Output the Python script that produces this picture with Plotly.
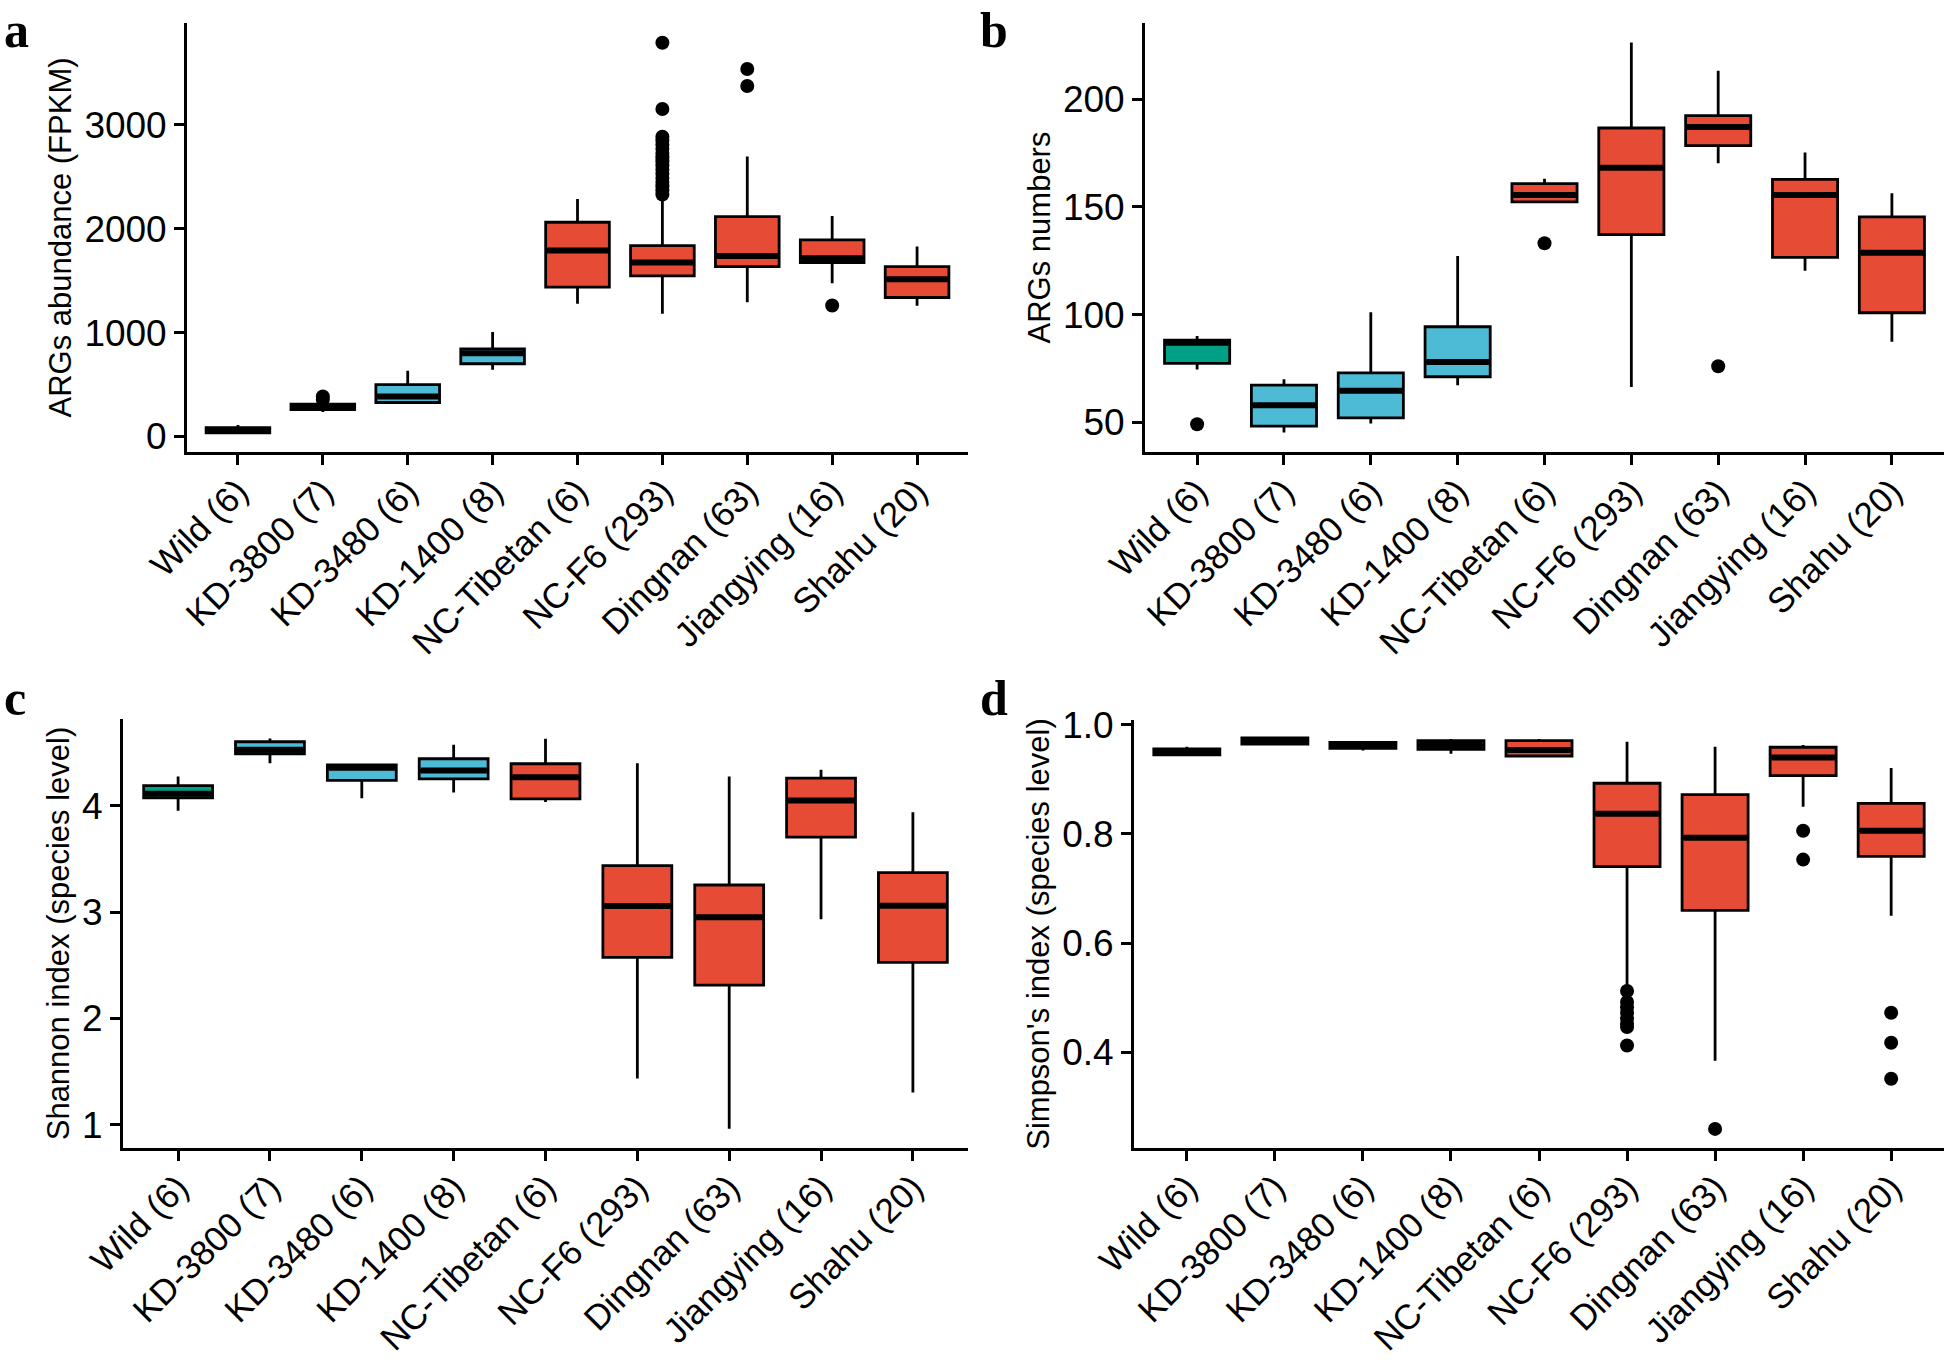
import plotly.graph_objects as go

W, H = 1944, 1365

categories = ["Wild (6)", "KD-3800 (7)", "KD-3480 (6)", "KD-1400 (8)", "NC-Tibetan (6)",
              "NC-F6 (293)", "Dingnan (63)", "Jiangying (16)", "Shahu (20)"]
groups = ["wild", "kd", "kd", "kd", "dom", "dom", "dom", "dom", "dom"]
group_colors = {"wild": "#00A087", "kd": "#4DBBD5", "dom": "#E64B35"}

# Panel a: ARGs abundance (FPKM)
a_low = [20, 235, 320, 642, 1277, 1181, 1293, 1476, 1258]
a_q1 = [35, 258, 327, 700, 1438, 1547, 1636, 1675, 1338]
a_med = [58, 281, 385, 802, 1790, 1675, 1739, 1717, 1515]
a_q3 = [85, 312, 498, 844, 2063, 1838, 2117, 1893, 1636]
a_high = [110, 322, 632, 1005, 2288, 2276, 2695, 2124, 1829]
a_out_cat = ["KD-3800 (7)", "KD-3800 (7)"] + ["NC-F6 (293)"] * 17 + ["Dingnan (63)", "Dingnan (63)", "Jiangying (16)"]
a_out_val = [385, 353, 3792, 3154, 2887, 2850, 2810, 2770, 2730, 2690, 2650, 2610, 2570,
             2530, 2490, 2450, 2410, 2370, 2330, 3539, 3375, 1261]

# Panel b: ARGs numbers
b_low = [74.6, 45.4, 49.5, 67.3, 152.3, 66.5, 170.2, 120.4, 87.4]
b_q1 = [77.4, 48.3, 52.1, 71.2, 152.3, 137.1, 178.4, 126.6, 100.9]
b_med = [87.0, 58.0, 64.7, 78.1, 155.5, 168.1, 187.1, 155.5, 128.7]
b_q3 = [88.2, 67.3, 73.0, 94.4, 160.8, 186.6, 192.3, 162.8, 145.4]
b_high = [90.1, 70.0, 101.1, 127.2, 163.0, 226.2, 213.2, 175.2, 156.3]
b_out_cat = ["Wild (6)", "NC-Tibetan (6)", "Dingnan (63)"]
b_out_val = [49.2, 133.1, 76.1]

# Panel c: Shannon index
c_low = [3.953, 4.40, 4.072, 4.126, 4.035, 1.433, 0.962, 2.932, 1.302]
c_q1 = [4.075, 4.49, 4.239, 4.254, 4.066, 2.574, 2.313, 3.705, 2.527]
c_med = [4.113, 4.528, 4.358, 4.333, 4.27, 3.057, 2.951, 4.05, 3.06]
c_q3 = [4.19, 4.603, 4.386, 4.443, 4.396, 3.437, 3.255, 4.261, 3.371]
c_high = [4.276, 4.634, 4.386, 4.575, 4.631, 4.40, 4.277, 4.339, 3.94]
c_out_cat = []
c_out_val = []

# Panel d: Simpson's index
d_low = [0.944, 0.963, 0.953, 0.947, 0.94, 0.523, 0.384, 0.85, 0.65]
d_q1 = [0.945, 0.965, 0.957, 0.955, 0.943, 0.740, 0.66, 0.907, 0.759]
d_med = [0.95, 0.971, 0.963, 0.963, 0.954, 0.837, 0.793, 0.94, 0.806]
d_q3 = [0.956, 0.976, 0.968, 0.971, 0.971, 0.893, 0.872, 0.959, 0.856]
d_high = [0.96, 0.978, 0.970, 0.974, 0.974, 0.969, 0.960, 0.963, 0.921]
d_out_cat = ["NC-F6 (293)"] * 8 + ["Dingnan (63)", "Jiangying (16)", "Jiangying (16)",
                                    "Shahu (20)", "Shahu (20)", "Shahu (20)"]
d_out_val = [0.512, 0.492, 0.482, 0.472, 0.462, 0.452, 0.446, 0.412, 0.259,
             0.806, 0.753, 0.472, 0.417, 0.351]

panels = [
    dict(key="a", low=a_low, q1=a_q1, med=a_med, q3=a_q3, high=a_high,
         oc=a_out_cat, ov=a_out_val, title="ARGs abundance (FPKM)",
         yrange=[-150, 3982], ytick=[0, 1000, 2000, 3000], ytext=["0", "1000", "2000", "3000"],
         px=(187, 968), py=(23, 452)),
    dict(key="b", low=b_low, q1=b_q1, med=b_med, q3=b_q3, high=b_high,
         oc=b_out_cat, ov=b_out_val, title="ARGs numbers",
         yrange=[36.3, 235.3], ytick=[50, 100, 150, 200], ytext=["50", "100", "150", "200"],
         px=(1145, 1944), py=(23, 452)),
    dict(key="c", low=c_low, q1=c_q1, med=c_med, q3=c_q3, high=c_high,
         oc=c_out_cat, ov=c_out_val, title="Shannon index (species level)",
         yrange=[0.78, 4.817], ytick=[1, 2, 3, 4], ytext=["1", "2", "3", "4"],
         px=(123, 968), py=(719, 1148)),
    dict(key="d", low=d_low, q1=d_q1, med=d_med, q3=d_q3, high=d_high,
         oc=d_out_cat, ov=d_out_val, title="Simpson's index (species level)",
         yrange=[0.224, 1.009], ytick=[0.4, 0.6, 0.8, 1.0], ytext=["0.4", "0.6", "0.8", "1.0"],
         px=(1134, 1944), py=(720, 1148)),
]

FONT = "Liberation Sans, Arial, sans-serif"
fig = go.Figure()
layout = dict(width=W, height=H, margin=dict(l=0, r=0, t=0, b=0),
              paper_bgcolor="white", plot_bgcolor="white", showlegend=False,
              boxmode="overlay", annotations=[])

for i, p in enumerate(panels):
    n = "" if i == 0 else str(i + 1)
    xa, ya = "x" + n, "y" + n
    for g in ["wild", "kd", "dom"]:
        idx = [k for k, gg in enumerate(groups) if gg == g]
        fig.add_trace(go.Box(
            x=[categories[k] for k in idx],
            q1=[p["q1"][k] for k in idx], median=[p["med"][k] for k in idx],
            q3=[p["q3"][k] for k in idx], lowerfence=[p["low"][k] for k in idx],
            upperfence=[p["high"][k] for k in idx],
            fillcolor=group_colors[g], line=dict(color="black", width=2.8),
            whiskerwidth=0, width=0.75, boxpoints=False, xaxis=xa, yaxis=ya,
            hoverinfo="skip"))
    # thick median bars
    fig.add_trace(go.Box(
        x=categories, q1=p["med"], median=p["med"], q3=p["med"],
        lowerfence=p["med"], upperfence=p["med"],
        fillcolor="black", line=dict(color="black", width=6),
        whiskerwidth=0, width=0.72, boxpoints=False, xaxis=xa, yaxis=ya,
        hoverinfo="skip"))
    if p["oc"]:
        fig.add_trace(go.Scatter(x=p["oc"], y=p["ov"], mode="markers",
                                 marker=dict(color="black", size=14, line=dict(width=0)),
                                 xaxis=xa, yaxis=ya, hoverinfo="skip"))
    x0, x1 = p["px"]
    y0, y1 = p["py"]
    layout["xaxis" + n] = dict(
        domain=[x0 / W, x1 / W], anchor=ya, type="category",
        categoryorder="array", categoryarray=categories, range=[-0.6, 8.6],
        showline=True, linecolor="black", linewidth=2.8, mirror=False,
        ticks="outside", ticklen=10, tickwidth=2.8, tickcolor="black",
        tickangle=-45, tickfont=dict(family=FONT, size=35, color="black"),
        ticklabelstandoff=-8,
        showgrid=False, zeroline=False, automargin=False)
    layout["yaxis" + n] = dict(
        domain=[1 - y1 / H, 1 - y0 / H], anchor=xa, range=p["yrange"],
        tickvals=p["ytick"], ticktext=p["ytext"],
        showline=True, linecolor="black", linewidth=2.8,
        ticks="outside", ticklen=10, tickwidth=2.8, tickcolor="black",
        tickfont=dict(family=FONT, size=37, color="black"),
        title=dict(text=p["title"], font=dict(family=FONT, size=31, color="black"), standoff=4),
        showgrid=False, zeroline=False, automargin=False)

label_pos = {"a": (2, 0), "b": (978, 0), "c": (2, 668), "d": (978, 668)}
for k, (lx, ly) in label_pos.items():
    layout["annotations"].append(dict(
        text="<b>" + k + "</b>", x=lx / W, y=1 - ly / H, xref="paper", yref="paper",
        xanchor="left", yanchor="top", showarrow=False,
        font=dict(family="Liberation Serif, Times New Roman, serif", size=50, color="black")))

fig.update_layout(**layout)
fig.write_html("out.html", config={"displayModeBar": False},
               post_script="document.body.style.margin='0';document.body.style.overflow='hidden';")
